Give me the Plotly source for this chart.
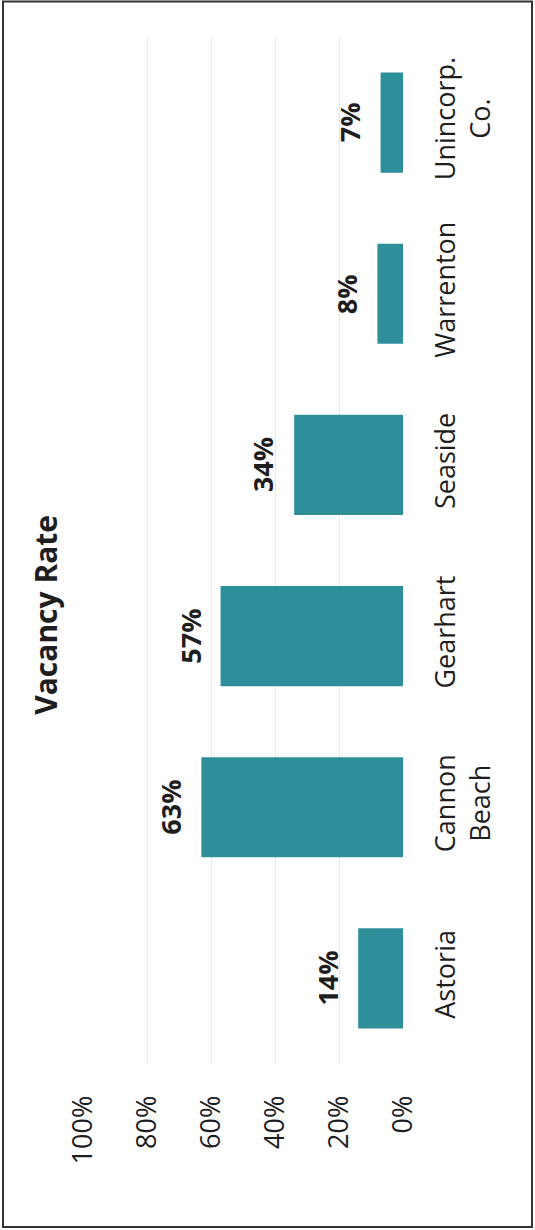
import plotly.graph_objects as go

# Vacancy rate by community (share of housing units)
places = ["Astoria", "Cannon<br>Beach", "Gearhart", "Seaside", "Warrenton", "Unincorp.<br>Co."]
vacancy = [0.14, 0.63, 0.57, 0.34, 0.08, 0.07]
pct_ticks = [0, 0.2, 0.4, 0.6, 0.8, 1.0]
pct_labels = ["0%", "20%", "40%", "60%", "80%", "100%"]

BAR = "#2e8e99"
INK = "#1e1e1e"
FONT = "Open Sans"

fig = go.Figure(
    go.Bar(
        x=vacancy,
        y=places,
        orientation="h",
        marker=dict(color=BAR, line=dict(width=0)),
        hoverinfo="skip",
    )
)

# value labels just beyond the end of each bar, turned with the page
for v, p in zip(vacancy, places):
    fig.add_annotation(
        x=v, y=p, xref="x", yref="y",
        text=f"<b>{round(v * 100)}%</b>",
        textangle=-90, showarrow=False,
        xanchor="center", yanchor="middle", xshift=-31,
        font=dict(family=FONT, size=27, color=INK),
    )

# chart title, running up the left side
fig.add_annotation(
    x=-0.117, y=0.437, xref="paper", yref="paper",
    text="<b>Vacancy Rate</b>", textangle=-90, showarrow=False,
    xanchor="center", yanchor="middle",
    font=dict(family=FONT, size=30, color=INK),
)

# outer frame of the chart
L, R, T, B = 83, 132, 37, 166
W, H = 535, 1230
pw, ph = W - L - R, H - T - B
def px_x(px):
    return (px - L) / pw
def px_y(py):
    return (H - B - py) / ph

fig.add_shape(
    type="rect", xref="paper", yref="paper",
    x0=px_x(3), x1=px_x(532), y0=px_y(1227), y1=px_y(1.5),
    line=dict(color="#333333", width=2), fillcolor="rgba(0,0,0,0)",
    layer="below",
)

fig.update_layout(
    width=W, height=H,
    margin=dict(l=L, r=R, t=T, b=B, pad=0),
    paper_bgcolor="white", plot_bgcolor="white",
    bargap=0.415,
    showlegend=False,
    font=dict(family=FONT, color=INK),
    xaxis=dict(
        range=[1, 0],
        tickvals=pct_ticks, ticktext=pct_labels,
        tickangle=-90,
        tickfont=dict(family=FONT, size=27, color=INK),
        ticks="outside", ticklen=20, tickcolor="rgba(0,0,0,0)",
        showgrid=True, gridcolor="#e8e8e8", gridwidth=1,
        zeroline=False, showline=False, fixedrange=True,
    ),
    yaxis=dict(
        categoryorder="array", categoryarray=places,
        side="right",
        tickangle=-90,
        tickfont=dict(family=FONT, size=27, color=INK),
        ticks="outside", ticklen=19, tickcolor="rgba(0,0,0,0)",
        showgrid=False, zeroline=False, showline=False, fixedrange=True,
    ),
)

fig.write_html("out.html")
